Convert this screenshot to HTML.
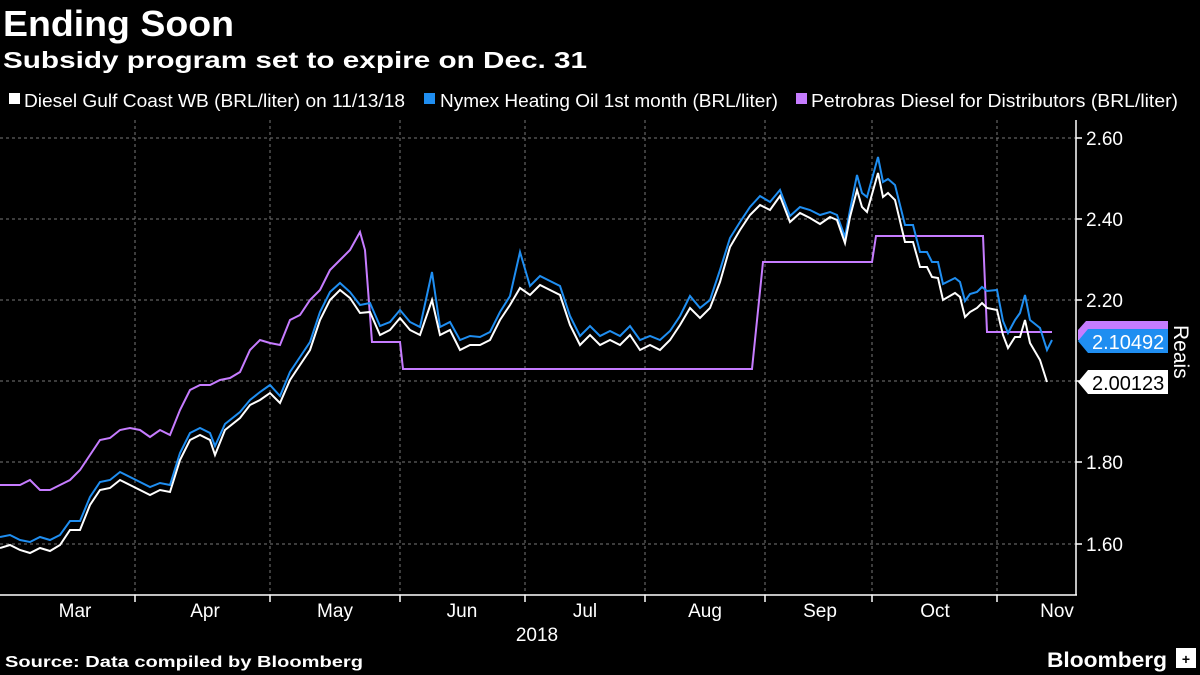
<!DOCTYPE html>
<html><head><meta charset="utf-8"><style>
html,body{margin:0;padding:0;background:#000;}
svg{display:block;font-family:"Liberation Sans","DejaVu Sans",sans-serif;}
</style></head><body>
<svg width="1200" height="675" viewBox="0 0 1200 675" xmlns="http://www.w3.org/2000/svg">
<rect width="1200" height="675" fill="#000"/>
<text x="3" y="36" fill="#fff" font-size="36" font-weight="bold" textLength="231" lengthAdjust="spacingAndGlyphs">Ending Soon</text>
<text x="3" y="68" fill="#fff" font-size="23" font-weight="bold" textLength="584" lengthAdjust="spacingAndGlyphs">Subsidy program set to expire on Dec. 31</text>
<rect x="9" y="93" width="11" height="11" fill="#fff"/>
<text x="24" y="107" fill="#fff" font-size="18" textLength="381" lengthAdjust="spacingAndGlyphs">Diesel Gulf Coast WB (BRL/liter) on 11/13/18</text>
<rect x="424" y="93" width="11" height="11" fill="#1f8ef1"/>
<text x="440" y="107" fill="#fff" font-size="18" textLength="338" lengthAdjust="spacingAndGlyphs">Nymex Heating Oil 1st month (BRL/liter)</text>
<rect x="796" y="93" width="11" height="11" fill="#c67cff"/>
<text x="811" y="107" fill="#fff" font-size="18" textLength="367" lengthAdjust="spacingAndGlyphs">Petrobras Diesel for Distributors (BRL/liter)</text>
<g stroke="#777" stroke-width="1" stroke-dasharray="3,3">
<line x1="0" y1="138" x2="1076" y2="138"/><line x1="0" y1="219" x2="1076" y2="219"/><line x1="0" y1="300" x2="1076" y2="300"/><line x1="0" y1="381" x2="1076" y2="381"/><line x1="0" y1="462" x2="1076" y2="462"/><line x1="0" y1="544" x2="1076" y2="544"/>
<line x1="135" y1="120" x2="135" y2="595"/><line x1="270" y1="120" x2="270" y2="595"/><line x1="400" y1="120" x2="400" y2="595"/><line x1="525" y1="120" x2="525" y2="595"/><line x1="645" y1="120" x2="645" y2="595"/><line x1="765" y1="120" x2="765" y2="595"/><line x1="872" y1="120" x2="872" y2="595"/><line x1="997" y1="120" x2="997" y2="595"/>
</g>
<line x1="0" y1="595" x2="1077" y2="595" stroke="#fff" stroke-width="1.5"/>
<line x1="1076" y1="120" x2="1076" y2="595" stroke="#fff" stroke-width="1.5"/>
<g stroke="#fff" stroke-width="1.5"><line x1="135" y1="595" x2="135" y2="602"/><line x1="270" y1="595" x2="270" y2="602"/><line x1="400" y1="595" x2="400" y2="602"/><line x1="525" y1="595" x2="525" y2="602"/><line x1="645" y1="595" x2="645" y2="602"/><line x1="765" y1="595" x2="765" y2="602"/><line x1="872" y1="595" x2="872" y2="602"/><line x1="997" y1="595" x2="997" y2="602"/>
<line x1="1076" y1="138" x2="1082" y2="138"/><line x1="1076" y1="219" x2="1082" y2="219"/><line x1="1076" y1="300" x2="1082" y2="300"/><line x1="1076" y1="381" x2="1082" y2="381"/><line x1="1076" y1="462" x2="1082" y2="462"/><line x1="1076" y1="544" x2="1082" y2="544"/></g>
<g fill="#fff" font-size="19">
<text x="1086" y="145">2.60</text><text x="1086" y="226">2.40</text><text x="1086" y="307">2.20</text><text x="1086" y="469">1.80</text><text x="1086" y="551">1.60</text>
</g>
<g fill="#fff" font-size="19" text-anchor="middle">
<text x="75" y="617">Mar</text><text x="205" y="617">Apr</text><text x="335" y="617">May</text><text x="462" y="617">Jun</text><text x="585" y="617">Jul</text><text x="705" y="617">Aug</text><text x="820" y="617">Sep</text><text x="935" y="617">Oct</text><text x="1057" y="617">Nov</text>
<text x="537" y="641">2018</text>
</g>
<polyline fill="none" stroke="#c67cff" stroke-width="2" points="0,485 20,485 30,480 40,490 50,490 60,485 70,480 80,470 90,455 100,440 110,438 120,430 130,428 140,430 150,437 160,430 170,435 180,410 190,390 200,385 210,385 220,380 230,378 240,372 250,350 260,340 270,343 280,345 290,320 300,315 310,300 320,290 330,270 340,260 350,250 360,232 365,250 372,342 400,342 403,369 752,369 763,262 872,262 876,236 983,236 987,332 1052,332"/>
<polyline fill="none" stroke="#1f8ef1" stroke-width="2" points="0,537 10,535 20,540 30,542 40,537 50,540 60,535 70,521 80,521 90,497 100,482 110,480 120,472 130,477 140,482 150,487 160,483 170,485 180,453 190,433 200,428 210,433 215,446 225,424 240,412 250,400 260,392 270,385 280,396 290,372 300,357 310,342 320,312 330,292 340,283 350,292 360,305 370,303 380,326 390,322 400,310 410,322 420,327 432,272 440,327 450,322 460,340 470,336 480,337 490,332 500,312 510,296 520,252 530,286 540,276 550,281 560,286 570,316 580,336 590,326 600,336 610,331 620,336 630,326 640,340 650,336 660,340 670,331 680,316 690,296 700,308 710,300 720,270 730,238 740,222 750,207 760,196 770,202 780,190 790,216 800,207 810,210 820,215 830,212 837,215 845,237 850,210 857,175 862,193 867,197 878,157 883,182 888,179 895,185 905,225 913,225 920,252 927,252 932,262 938,262 943,284 955,278 960,282 965,301 970,294 977,292 982,287 987,291 997,290 1003,321 1008,333 1015,320 1020,313 1025,295 1030,320 1040,328 1047,350 1052,340"/>
<polyline fill="none" stroke="#fff" stroke-width="2" points="0,548 10,545 20,550 30,553 40,548 50,551 60,545 70,530 80,530 90,505 100,490 110,488 120,480 130,485 140,490 150,495 160,490 170,492 180,460 190,440 200,435 210,440 215,455 225,430 240,418 250,405 260,400 270,393 280,403 290,380 300,365 310,350 320,320 330,300 340,290 350,298 360,313 370,312 380,335 390,330 400,318 410,330 420,335 432,300 440,335 450,330 460,350 470,345 480,345 490,340 500,320 510,305 520,288 530,295 540,285 550,290 560,295 570,325 580,345 590,335 600,345 610,340 620,345 630,335 640,350 650,345 660,350 670,340 680,325 690,308 700,318 710,308 720,282 730,247 740,230 750,215 760,205 770,210 780,196 790,222 800,213 810,218 820,224 830,217 837,220 845,243 850,217 857,190 862,207 867,212 878,173 883,197 888,193 895,200 905,242 913,242 920,267 927,267 932,277 938,278 943,300 955,293 960,297 965,317 970,312 977,308 982,303 987,308 997,310 1003,335 1008,348 1015,337 1020,337 1025,320 1030,343 1040,360 1047,382"/>
<polygon points="1078,330 1086,321 1168,321 1168,340 1078,340" fill="#c67cff"/>
<polygon points="1078,341 1088,329 1168,329 1168,353 1088,353" fill="#1f8ef1"/>
<text x="1092" y="349" fill="#fff" font-size="20">2.10492</text>
<polygon points="1078,382 1088,370 1168,370 1168,394 1088,394" fill="#fff"/>
<text x="1092" y="390" fill="#000" font-size="20">2.00123</text>
<text x="0" y="0" fill="#fff" font-size="21" transform="translate(1174,325) rotate(90)">Reais</text>
<text x="5" y="667" fill="#fff" font-size="16" font-weight="bold" textLength="358" lengthAdjust="spacingAndGlyphs">Source: Data compiled by Bloomberg</text>
<text x="1047" y="667" fill="#fff" font-size="21" font-weight="bold" textLength="120" lengthAdjust="spacingAndGlyphs">Bloomberg</text>
<rect x="1176" y="648" width="20" height="20" fill="#fff"/>
<text x="1186" y="664" fill="#000" font-size="14" font-weight="bold" text-anchor="middle">+</text>
</svg>
</body></html>
